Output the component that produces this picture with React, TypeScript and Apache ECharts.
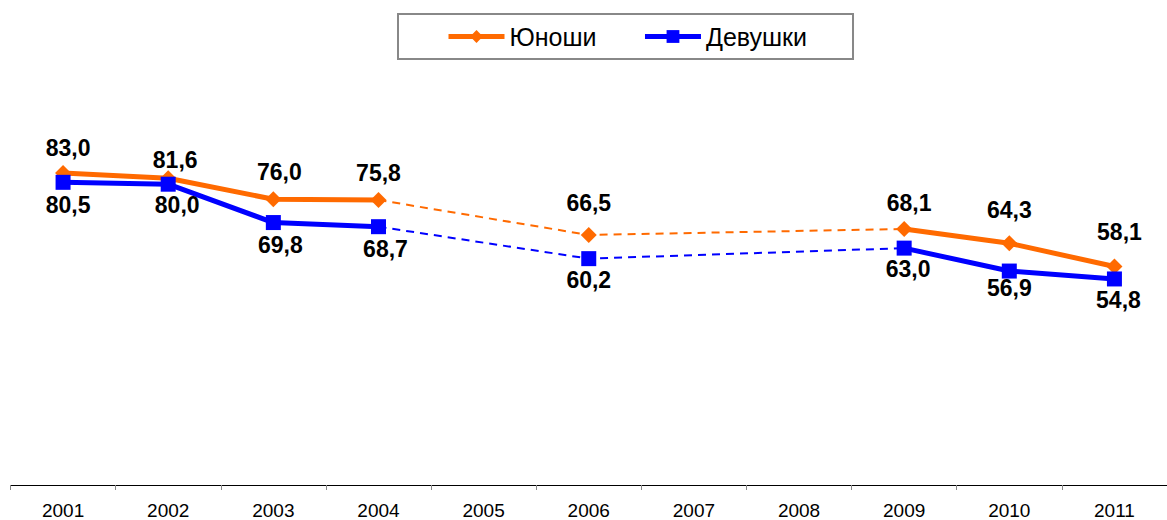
import React, { useEffect, useRef } from "react";
import * as echarts from "echarts";

const years = ["2001", "2002", "2003", "2004", "2005", "2006", "2007", "2008", "2009", "2010", "2011"];
const boys: (number | null)[] = [83.0, 81.6, 76.0, 75.8, null, 66.5, null, null, 68.1, 64.3, 58.1];
const girls: (number | null)[] = [80.5, 80.0, 69.8, 68.7, null, 60.2, null, null, 63.0, 56.9, 54.8];
// points joined by dashed lines across missing years
const bridgeIdx = [3, 5, 8];

// layout only: label centre offsets (px) from each marker, as placed in the original
const boysLabelOffset: [number, number][] = [
  [5, -25], [7, -18], [6, -27], [0, -27], [0, 0], [0, -32], [0, 0], [0, 0], [5, -26], [0, -33], [5, -35],
];
const girlsLabelOffset: [number, number][] = [
  [5, 23], [9, 21], [7, 22], [7, 22], [0, 0], [0, 21], [0, 0], [0, 0], [4, 21], [0, 17], [4, 21],
];

const ORANGE = "#FF6A00";
const BLUE = "#0000FF";
const FONT = "Liberation Sans, Arial, sans-serif";

const fmt = (p: any) => (p.value == null ? "" : Number(p.value).toFixed(1).replace(".", ","));

const labelBase = {
  show: true,
  position: "inside",
  align: "center",
  verticalAlign: "middle",
  formatter: fmt,
  fontFamily: FONT,
  fontWeight: "bold",
  fontSize: 23,
  color: "#000",
};

export default function App() {
  const ref = useRef<HTMLDivElement>(null);
  useEffect(() => {
    if (!ref.current) return;
    const chart = echarts.init(ref.current, null, { renderer: "svg" });
    const bridge = (arr: (number | null)[]) => arr.map((v, i) => (bridgeIdx.includes(i) ? v : null));
    const withLabels = (arr: (number | null)[], offs: [number, number][]) =>
      arr.map((v, i) => (v == null ? null : { value: v, label: { offset: offs[i] } }));
    chart.setOption({
      animation: false,
      backgroundColor: "#fff",
      legend: {
        data: ["Юноши", "Девушки"],
        left: 398,
        top: 14,
        padding: [10, 46, 10, 48],
        itemGap: 46,
        itemWidth: 56,
        itemHeight: 16,
        borderColor: "#888",
        borderWidth: 2,
        lineStyle: { width: 5 },
        textStyle: { fontFamily: FONT, fontSize: 25, color: "#000" },
      },
      grid: { left: 10.5, right: -6, top: 109, bottom: 35, containLabel: false },
      xAxis: {
        type: "category",
        data: years,
        boundaryGap: true,
        axisLine: { lineStyle: { color: "#000", width: 1 } },
        axisTick: { show: true, length: 5, lineStyle: { color: "#888" } },
        axisLabel: { fontFamily: FONT, fontSize: 19, color: "#000", margin: 16, interval: 0 },
      },
      yAxis: { type: "value", min: 0, max: 100, show: false, splitLine: { show: false } },
      series: [
        {
          name: "Юноши-пропуск",
          type: "line",
          data: bridge(boys),
          connectNulls: true,
          showSymbol: false,
          lineStyle: { color: ORANGE, width: 2, type: [8, 6] },
          itemStyle: { color: ORANGE },
          z: 1,
          silent: true,
        },
        {
          name: "Девушки-пропуск",
          type: "line",
          data: bridge(girls),
          connectNulls: true,
          showSymbol: false,
          lineStyle: { color: BLUE, width: 2, type: [8, 6] },
          itemStyle: { color: BLUE },
          z: 1,
          silent: true,
        },
        {
          name: "Юноши",
          type: "line",
          data: withLabels(boys, boysLabelOffset),
          connectNulls: false,
          symbol: "diamond",
          symbolSize: 16,
          showAllSymbol: true,
          lineStyle: { color: ORANGE, width: 5 },
          itemStyle: { color: ORANGE },
          label: labelBase,
          z: 3,
        },
        {
          name: "Девушки",
          type: "line",
          data: withLabels(girls, girlsLabelOffset),
          connectNulls: false,
          symbol: "rect",
          symbolSize: 15,
          showAllSymbol: true,
          lineStyle: { color: BLUE, width: 5 },
          itemStyle: { color: BLUE },
          label: labelBase,
          z: 4,
        },
      ],
    });
    return () => chart.dispose();
  }, []);
  return (
    <div
      ref={ref}
      style={{ position: "fixed", left: 0, top: 0, width: 1167, height: 520, background: "#fff" }}
    />
  );
}
